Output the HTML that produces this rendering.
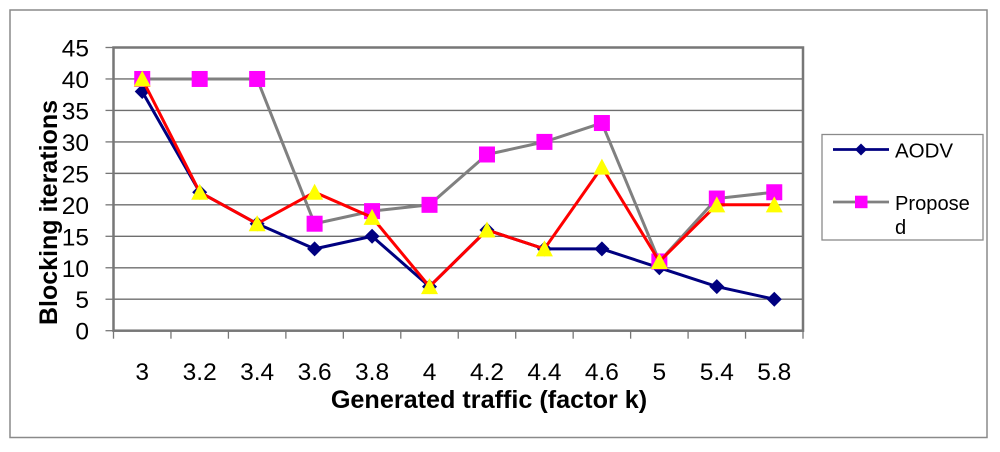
<!DOCTYPE html>
<html lang="en">
<head>
<meta charset="utf-8">
<title>Blocking iterations chart</title>
<style>
html,body{margin:0;padding:0;background:#fff;width:1000px;height:452px;overflow:hidden}
svg{display:block;font-family:"Liberation Sans",Arial,sans-serif}
</style>
</head>
<body>
<svg id="chart" width="1000" height="452" viewBox="0 0 1000 452" xmlns="http://www.w3.org/2000/svg">
  <rect x="10" y="10" width="977" height="427.5" fill="#fff" stroke="#8a8a8a" stroke-width="1.5"/>
  <g id="grid"></g>
  <g id="ticks"></g>
  <g id="series"></g>
  <text x="0" y="0" transform="translate(57,212.5) rotate(-90)" text-anchor="middle" font-size="25" font-weight="bold" fill="#000">Blocking iterations</text>
  <text x="489" y="408" text-anchor="middle" font-size="25.2" font-weight="bold" fill="#000">Generated traffic (factor k)</text>
  <g>
    <rect x="822" y="134.5" width="161" height="105.5" fill="#fff" stroke="#8a8a8a" stroke-width="1.3"/>
    <g>
      <line x1="833" y1="149.5" x2="889" y2="149.5" stroke="#000080" stroke-width="2.8"/>
      <polygon points="861,143.5 867,149.5 861,155.5 855,149.5" fill="#000080"/>
      <text x="895" y="157.5" font-size="20.5" fill="#000">AODV</text>
    </g>
    <g>
      <line x1="833" y1="202" x2="889" y2="202" stroke="#808080" stroke-width="2.8"/>
      <rect x="855" y="195.7" width="12.5" height="12.5" fill="#ff00ff"/>
      <text x="895" y="210" font-size="20.1" fill="#000">Propose</text>
      <text x="895" y="234" font-size="20.1" fill="#000">d</text>
    </g>
  </g>
</svg>
<script>
const categories = ["3","3.2","3.4","3.6","3.8","4","4.2","4.4","4.6","5","5.4","5.8"];
const yTicks = [0,5,10,15,20,25,30,35,40,45];
const aodvValues = [38,22,17,13,15,7,16,13,13,10,7,5];
const proposedValues = [40,40,40,17,19,20,28,30,33,11,21,22];
const thirdValues = [40,22,17,22,18,7,16,13,26,11,20,20];

const NS = "http://www.w3.org/2000/svg";
const plotLeft = 113.5, plotRight = 803, plotTop = 47.5, plotBottom = 330.7;
const yMax = 45;
function xScale(i){ return plotLeft + (i + 0.5) * (plotRight - plotLeft) / categories.length; }
function yScale(v){ return plotBottom - (v / yMax) * (plotBottom - plotTop); }
function make(tag, attrs, parent, text){
  const el = document.createElementNS(NS, tag);
  for (const k in attrs) el.setAttribute(k, attrs[k]);
  if (text !== undefined) el.textContent = text;
  parent.appendChild(el);
  return el;
}
const gridG = document.getElementById("grid");
const ticksG = document.getElementById("ticks");
const seriesG = document.getElementById("series");

yTicks.forEach(function(t){
  const y = yScale(t);
  if (t > 0 && t < yMax) {
    const g = make("line", {x1:plotLeft, x2:plotRight, y1:y, y2:y, stroke:"#6e6e6e", "stroke-width":1.4}, gridG);
    
    
  }
  const m = make("line", {x1:plotLeft-8, x2:plotLeft, y1:y, y2:y, stroke:"#777", "stroke-width":1.3}, ticksG);
  
  
  const l = make("text", {x:89, y:y+9, "text-anchor":"end", "font-size":24.5, fill:"#000"}, ticksG, String(t));
  
  
});

categories.forEach(function(c, i){
  const edge = plotLeft + i * (plotRight - plotLeft) / categories.length;
  const m = make("line", {x1:edge, x2:edge, y1:plotBottom, y2:plotBottom+8, stroke:"#777", "stroke-width":1.3}, ticksG);
  
  
  const l = make("text", {x:xScale(i), y:380, "text-anchor":"middle", "font-size":24.5, fill:"#000"}, ticksG, c);
  
  
});
const lastMark = make("line", {x1:plotRight, x2:plotRight, y1:plotBottom, y2:plotBottom+8, stroke:"#777", "stroke-width":1.3}, ticksG);



const frame = make("rect", {x:plotLeft, y:plotTop, width:plotRight-plotLeft, height:plotBottom-plotTop, fill:"none", stroke:"#777", "stroke-width":2.5}, gridG);



function linePoints(vals){
  return vals.map(function(v,i){ return xScale(i).toFixed(1) + "," + yScale(v).toFixed(1); }).join(" ");
}
function diamond(parent, cx, cy){
  const r = 7.5;
  const p = make("polygon", {points:[cx,cy-r,cx+r,cy,cx,cy+r,cx-r,cy].join(" "), fill:"#000080"}, parent);
  
  
}
function square(parent, cx, cy){
  const s = 16;
  const p = make("rect", {x:cx-s/2, y:cy-s/2, width:s, height:s, fill:"#ff00ff"}, parent);
  
  
}
function triangle(parent, cx, cy){
  const p = make("polygon", {points:[cx,cy-8.5,cx+8.5,cy+7.5,cx-8.5,cy+7.5].join(" "), fill:"#ffff00"}, parent);
  
  
}

const aodvLine = make("polyline", {points:linePoints(aodvValues), fill:"none", stroke:"#000080", "stroke-width":3}, seriesG);


aodvValues.forEach(function(v,i){ diamond(seriesG, xScale(i), yScale(v)); });

const proposedLine = make("polyline", {points:linePoints(proposedValues), fill:"none", stroke:"#808080", "stroke-width":3}, seriesG);


proposedValues.forEach(function(v,i){ square(seriesG, xScale(i), yScale(v)); });

const thirdLine = make("polyline", {points:linePoints(thirdValues), fill:"none", stroke:"#ff0000", "stroke-width":3}, seriesG);


thirdValues.forEach(function(v,i){ triangle(seriesG, xScale(i), yScale(v)); });
</script>
</body>
</html>
